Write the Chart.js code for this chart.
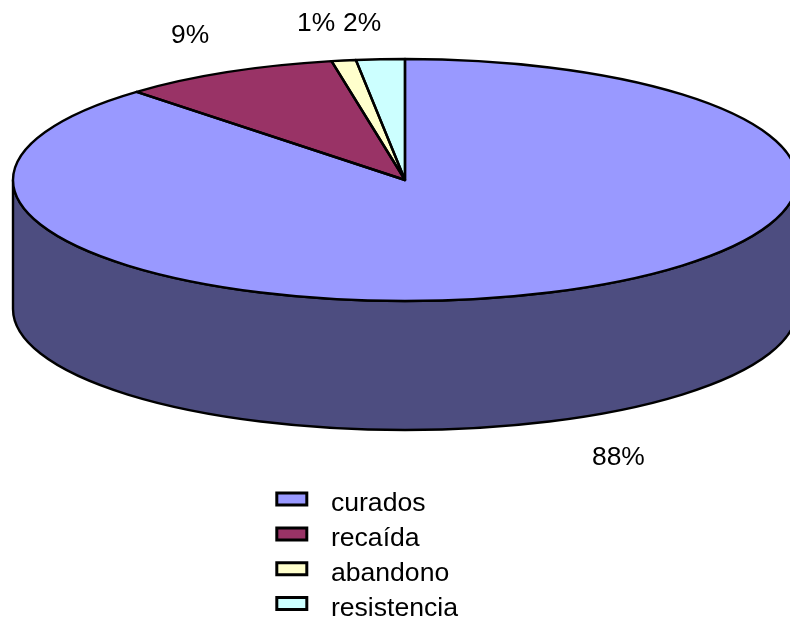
<!DOCTYPE html>
<html>
<head>
<meta charset="utf-8">
<style>
  html, body { margin: 0; padding: 0; background: #ffffff; }
  canvas { display: block; }
</style>
<script src="https://cdn.jsdelivr.net/npm/chart.js@4"></script>
</head>
<body>
<canvas id="pie" width="790" height="620"></canvas>
<script>
const categories = ['curados', 'recaída', 'abandono', 'resistencia'];
const shares = [88, 9, 1, 2];
const sliceColors = ['#9999FF', '#993366', '#FFFFCC', '#CCFFFF'];
const wallColors = ['#4D4D80', '#4D1A33', '#808066', '#668080'];

// Geometry of the tilted disc and its percentage captions
const disc = { cx: 405, cy: 180, rx: 392, ry: 121, depth: 129 };
const captionSpots = [[592, 465], [171, 43], [297, 31], [343, 31]];
const FONT_FAMILY = '"Liberation Sans", Arial, sans-serif';
const TEXT_SIZE = 26.4;
const OUTLINE = 2.4;

// Draws the front wall under the disc, squashes the arcs into an ellipse,
// then outlines the slices and writes the percentages.
const tiltedDisc = {
  id: 'tiltedDisc',
  afterLayout(chart) {
    const legend = chart.legend;
    legend.left = 268.6;
    legend.top = 477.6;
    legend.right = 790;
    legend.bottom = 660;
    if (!legend.nudged) {
      const drawLegend = legend.draw.bind(legend);
      legend.draw = function () {
        const ctx = chart.ctx;
        const fillText = ctx.fillText;
        ctx.fillText = function (t, x, y) { fillText.call(ctx, t, x + 10.8, y + 5); };
        drawLegend();
        delete ctx.fillText;
      };
      legend.nudged = true;
    }
  },
  beforeDatasetsDraw(chart) {
    const ctx = chart.ctx;
    const arcs = chart.getDatasetMeta(0).data;
    const { cx, cy, rx, ry, depth } = disc;
    ctx.save();
    ctx.lineWidth = OUTLINE;
    ctx.strokeStyle = '#000';
    ctx.lineJoin = 'round';
    arcs.forEach((arc, i) => {
      // Only the part of a slice facing the viewer (canvas angles 0..PI) shows a wall
      const two = Math.PI * 2;
      const a = ((arc.startAngle % two) + two) % two;
      const b = a + (arc.endAngle - arc.startAngle);
      const ranges = [[a, b], [a - two, b - two]];
      ranges.forEach(([s, e]) => {
        const from = Math.max(s, 0);
        const to = Math.min(e, Math.PI);
        if (to <= from) return;
        ctx.beginPath();
        ctx.ellipse(cx, cy, rx, ry, 0, from, to);
        ctx.ellipse(cx, cy + depth, rx, ry, 0, to, from, true);
        ctx.closePath();
        ctx.fillStyle = wallColors[i];
        ctx.fill();
        ctx.stroke();
      });
    });
    ctx.restore();

    const r = arcs[0].outerRadius;
    ctx.save();
    ctx.translate(cx, cy);
    ctx.scale(rx / r, ry / r);
    ctx.translate(-arcs[0].x, -arcs[0].y);
  },
  afterDatasetsDraw(chart) {
    const ctx = chart.ctx;
    ctx.restore();
    const arcs = chart.getDatasetMeta(0).data;
    const { cx, cy, rx, ry } = disc;
    ctx.save();
    ctx.lineWidth = OUTLINE;
    ctx.strokeStyle = '#000';
    ctx.lineJoin = 'round';
    arcs.forEach(arc => {
      ctx.beginPath();
      ctx.moveTo(cx, cy);
      ctx.ellipse(cx, cy, rx, ry, 0, arc.startAngle, arc.endAngle);
      ctx.closePath();
      ctx.stroke();
    });
    ctx.fillStyle = '#000';
    ctx.font = TEXT_SIZE + 'px ' + FONT_FAMILY;
    ctx.textAlign = 'left';
    ctx.textBaseline = 'alphabetic';
    shares.forEach((v, i) => {
      ctx.fillText(v + '%', captionSpots[i][0], captionSpots[i][1]);
    });
    ctx.restore();
  }
};

new Chart(document.getElementById('pie'), {
  type: 'pie',
  data: {
    labels: categories,
    datasets: [{
      data: shares,
      backgroundColor: sliceColors,
      borderWidth: 0,
      clip: false
    }]
  },
  options: {
    responsive: false,
    animation: false,
    events: [],
    plugins: {
      tooltip: { enabled: false },
      legend: {
        position: 'left',
        align: 'start',
        labels: {
          color: '#000',
          boxWidth: 30,
          boxHeight: 12,
          padding: 8.2,
          font: { family: FONT_FAMILY, size: 26.6 },
          generateLabels(chart) {
            return Chart.overrides.pie.plugins.legend.labels.generateLabels(chart)
              .map(item => Object.assign(item, { lineWidth: 3, strokeStyle: '#000' }));
          }
        }
      }
    }
  },
  plugins: [tiltedDisc]
});
</script>
</body>
</html>
